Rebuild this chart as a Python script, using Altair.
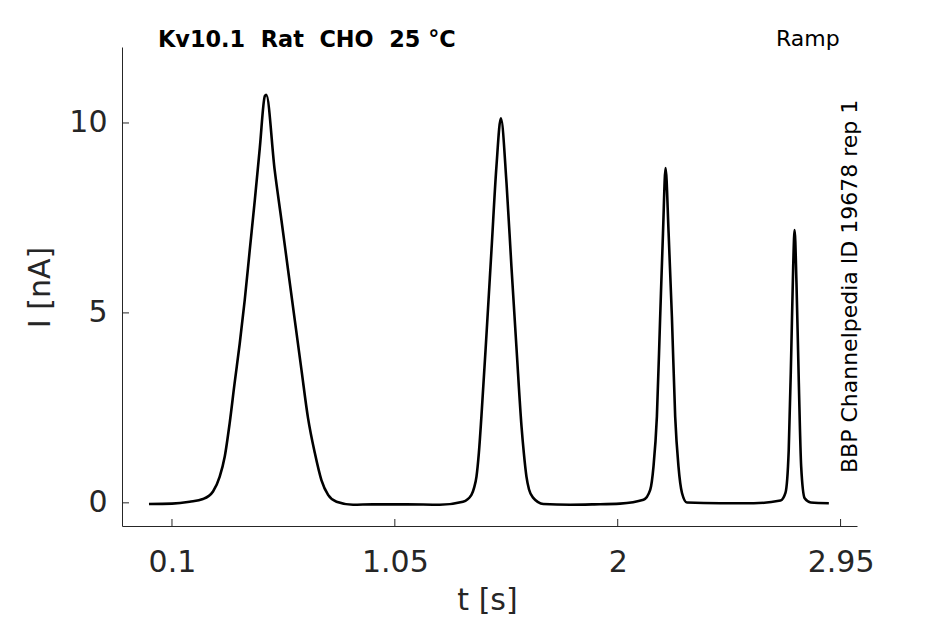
import altair as alt
import pandas as pd

# Current trace (time in s, current in nA)
t_s = [
    0.002, 0.10, 0.1755, 0.232, 0.275, 0.3035, 0.325, 0.346, 0.367, 0.389, 0.410, 0.4315,
    0.453, 0.4745, 0.496, 0.502,
    0.538, 0.5667, 0.5949, 0.6235, 0.652, 0.680, 0.709, 0.737, 0.7655, 0.8014, 0.872, 0.955,
    1.10, 1.241, 1.3406, 1.3765, 1.388, 1.398, 1.408, 1.419, 1.441, 1.462, 1.483, 1.502,
    1.526, 1.547, 1.569, 1.590, 1.600, 1.611, 1.622, 1.640, 1.683, 1.797,
    1.90, 2.010, 2.110, 2.1385, 2.1526, 2.167, 2.181, 2.193, 2.204,
    2.217, 2.231, 2.245, 2.259, 2.274, 2.295, 2.437,
    2.580, 2.694, 2.715, 2.729, 2.740, 2.748, 2.754, 2.762, 2.772, 2.782, 2.797, 2.823, 2.900,
]
i_nA = [
    -0.03, -0.02, 0.03, 0.10, 0.30, 0.69, 1.22, 2.10, 3.15, 4.20, 5.33, 6.65,
    7.96, 9.35, 10.71, 10.74,
    8.75, 7.44, 6.13, 4.81, 3.50, 2.23, 1.31, 0.60, 0.21, 0.03, -0.05, -0.04,
    -0.04, -0.05, 0.03, 0.21, 0.40, 0.69, 1.30, 2.27, 4.47, 6.66, 8.85, 10.12,
    8.42, 6.22, 4.03, 2.01, 1.30, 0.69, 0.35, 0.13, -0.03, -0.05,
    -0.04, -0.02, 0.08, 0.34, 0.96, 2.27, 4.90, 7.10, 8.81,
    7.10, 4.90, 2.27, 0.96, 0.26, 0.01, -0.01,
    -0.01, 0.06, 0.26, 1.39, 4.03, 6.22, 7.18, 5.79, 3.16, 0.96, 0.12, 0.01, -0.01,
]

x_ticks = [0.1, 1.05, 2, 2.95]
y_ticks = [0, 5, 10]

NB = "\u00a0"
title_text = f"Kv10.1{NB}{NB}Rat{NB}{NB}CHO{NB}{NB}25{NB}°C"
protocol_text = "Ramp"
source_text = "BBP Channelpedia ID 19678 rep 1"

W, H = 735, 479
FONT = "DejaVu Sans"
AXC = "#262626"

trace = pd.DataFrame({"t": t_s, "I": i_nA})
xt = pd.DataFrame({"t": x_ticks})
yt = pd.DataFrame({"I": y_ticks})

xscale = alt.Scale(domain=[-0.113, 3.02], nice=False, zero=False)
yscale = alt.Scale(domain=[-0.61, 12], nice=False, zero=False)

xaxis = alt.Axis(
    values=x_ticks, labelExpr="datum.value", title="t [s]", grid=False,
    ticks=False, tickSize=0, labelFontSize=30, labelFont=FONT, labelColor=AXC,
    labelBaseline="alphabetic", labelPadding=45.5, titleFontSize=30, titleFont=FONT,
    titleFontWeight="normal", titleColor=AXC, titleBaseline="alphabetic",
    titleX=365, titleY=83, titleAlign="center", domainColor=AXC, domainWidth=1,
)
yaxis = alt.Axis(
    values=y_ticks, title="I [nA]", grid=False, ticks=False, tickSize=0,
    labelFontSize=30, labelFont=FONT, labelColor=AXC, labelPadding=15,
    titleFontSize=30, titleFont=FONT, titleFontWeight="normal", titleColor=AXC,
    titleAngle=270, titleBaseline="alphabetic", titleAlign="center",
    titleX=-73, titleY=240, domainColor=AXC, domainWidth=1,
)

line = alt.Chart(trace).mark_line(
    color="black", strokeWidth=2.6, interpolate="monotone"
).encode(
    x=alt.X("t:Q", scale=xscale, axis=xaxis),
    y=alt.Y("I:Q", scale=yscale, axis=yaxis),
    order="t:Q",
)

xtick_marks = alt.Chart(xt).mark_rule(color=AXC, strokeWidth=1).encode(
    x=alt.X("t:Q", scale=xscale), y=alt.value(H), y2=alt.value(H - 7)
)
ytick_marks = alt.Chart(yt).mark_rule(color=AXC, strokeWidth=1).encode(
    y=alt.Y("I:Q", scale=yscale), x=alt.value(0), x2=alt.value(7)
)

title_mark = alt.Chart(pd.DataFrame({"s": [title_text]})).mark_text(
    font=FONT, fontSize=22.4, fontWeight="bold", color="black", align="left",
    baseline="alphabetic",
).encode(text="s:N", x=alt.value(36), y=alt.value(-0.5))

protocol_mark = alt.Chart(pd.DataFrame({"s": [protocol_text]})).mark_text(
    font=FONT, fontSize=22, color="black", align="left", baseline="alphabetic",
).encode(text="s:N", x=alt.value(654), y=alt.value(-1))

source_mark = alt.Chart(pd.DataFrame({"s": [source_text]})).mark_text(
    font=FONT, fontSize=22, color="black", align="left", baseline="alphabetic",
    angle=270,
).encode(text="s:N", x=alt.value(734.5), y=alt.value(426))

chart = alt.layer(
    line, xtick_marks, ytick_marks, title_mark, protocol_mark, source_mark
).properties(
    width=W, height=H,
    autosize=alt.AutoSizeParams(type="none"),
    padding={"left": 114, "top": 39, "right": 80, "bottom": 90},
    background="white",
).configure_view(stroke=None)

chart.save("out.html", embed_options={"renderer": "svg", "actions": False})
